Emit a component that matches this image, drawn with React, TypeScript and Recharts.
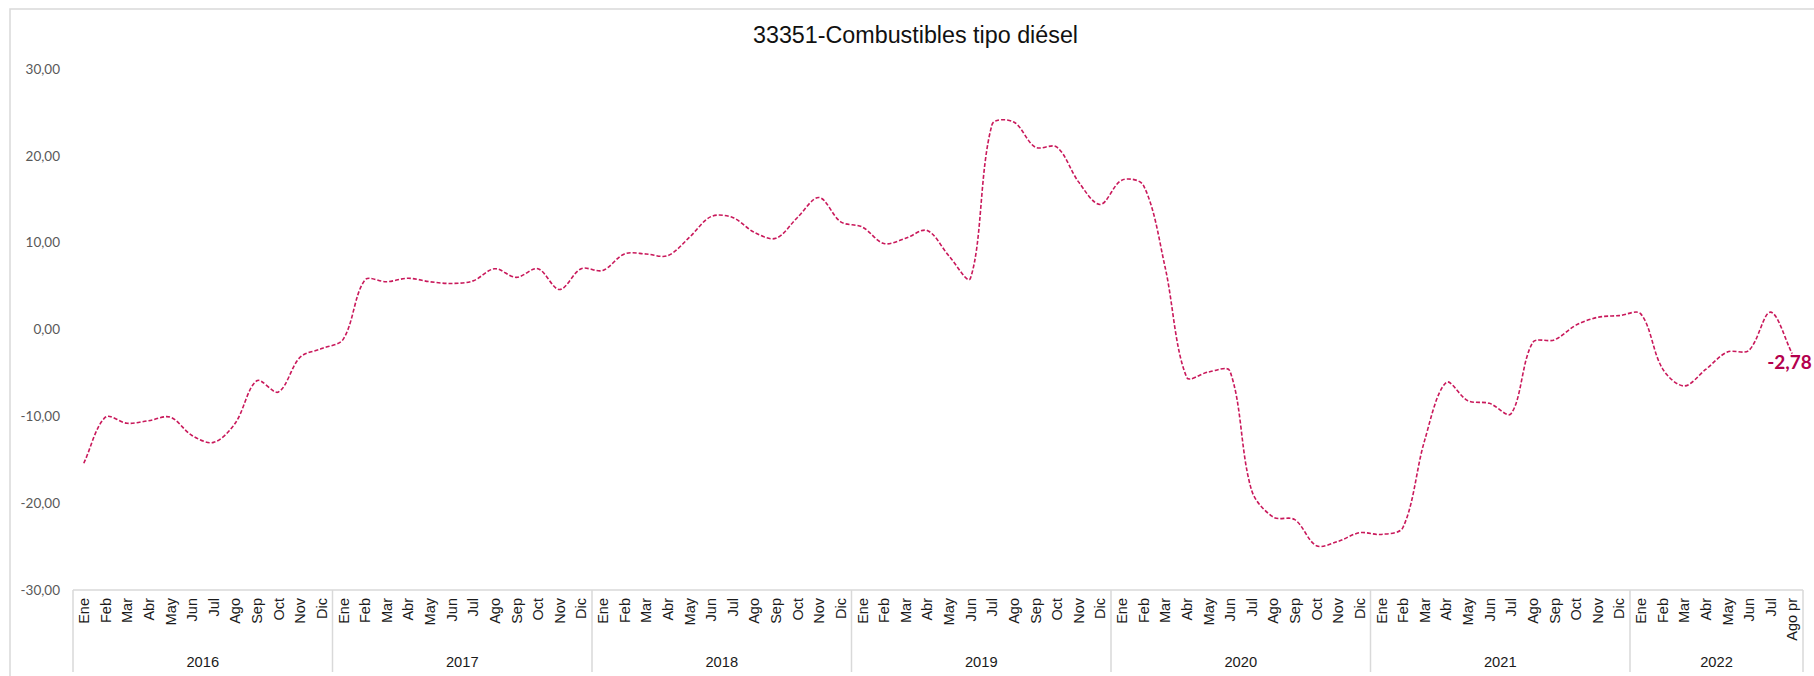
import React from 'react';
import { LineChart, Line, XAxis, YAxis, LabelList } from 'recharts';

const years = ['2016', '2017', '2018', '2019', '2020', '2021', '2022'];
const months = ['Ene', 'Feb', 'Mar', 'Abr', 'May', 'Jun', 'Jul', 'Ago', 'Sep', 'Oct', 'Nov', 'Dic'];
const months2022 = ['Ene', 'Feb', 'Mar', 'Abr', 'May', 'Jun', 'Jul', 'Ago pr'];

const values2016 = [-15.4, -10.1, -10.8, -10.5, -10.1, -12.2, -13.0, -10.8, -5.9, -7.2, -3.2, -2.2];
const values2017 = [-1.1, 5.7, 5.5, 5.9, 5.5, 5.3, 5.6, 7.0, 6.0, 7.0, 4.6, 7.0];
const values2018 = [6.8, 8.7, 8.7, 8.5, 10.6, 13.0, 12.9, 11.2, 10.5, 12.9, 15.2, 12.4];
const values2019 = [11.8, 9.9, 10.5, 11.4, 8.5, 5.9, 23.6, 23.9, 21.0, 21.0, 17.0, 14.4];
const values2020 = [17.2, 16.6, 7.2, -5.5, -4.9, -4.8, -18.5, -21.6, -21.9, -24.9, -24.4, -23.4];
const values2021 = [-23.6, -22.8, -12.8, -6.1, -8.2, -8.5, -9.7, -1.5, -1.2, 0.5, 1.4, 1.6];
const values2022 = [1.8, -4.5, -6.5, -4.6, -2.6, -2.4, 2.0, -2.78];

const yTicks = [-30, -20, -10, 0, 10, 20, 30];

const monthsByYear = years.map((y) => (y === '2022' ? months2022 : months));
const valuesByYear = [values2016, values2017, values2018, values2019, values2020, values2021, values2022];

const fmt = (v: number) => v.toFixed(2).replace('.', ',');

const data: { key: string; value: number; label?: string }[] = years.flatMap((year, yi) =>
  monthsByYear[yi].map((m, mi) => ({ key: `${year}|${m}`, value: valuesByYear[yi][mi] }))
);
data[data.length - 1].label = fmt(data[data.length - 1].value);

const W = 1814;
const H = 676;
const PLOT_LEFT = 73;
const PLOT_RIGHT = 1803;
const BAND = (PLOT_RIGHT - PLOT_LEFT) / data.length;

const LINE_COLOR = '#C9195B';
const GRID = '#d9d9d9';

// Excel-like smoothing: bezier through every point, arms scaled by chord length
const smoothCurve = (context: any) => {
  let pts: number[][] = [];
  const dist = (a: number[], b: number[]) => Math.hypot(b[0] - a[0], b[1] - a[1]);
  return {
    areaStart() {},
    areaEnd() {},
    lineStart() {
      pts = [];
    },
    point(x: number, y: number) {
      pts.push([+x, +y]);
    },
    lineEnd() {
      if (!pts.length) return;
      context.moveTo(pts[0][0], pts[0][1]);
      for (let i = 0; i < pts.length - 1; i++) {
        const p0 = pts[i - 1] || pts[i];
        const p1 = pts[i];
        const p2 = pts[i + 1];
        const p3 = pts[i + 2] || p2;
        const d01 = dist(p0, p1);
        const d12 = dist(p1, p2);
        const d23 = dist(p2, p3);
        const f1 = d01 + d12 > 0 ? d12 / (d01 + d12) / 3 : 0;
        const f2 = d12 + d23 > 0 ? d12 / (d12 + d23) / 3 : 0;
        context.bezierCurveTo(
          p1[0] + (p2[0] - p0[0]) * f1,
          p1[1] + (p2[1] - p0[1]) * f1,
          p2[0] - (p3[0] - p1[0]) * f2,
          p2[1] - (p3[1] - p1[1]) * f2,
          p2[0],
          p2[1]
        );
      }
    },
  };
};

function MonthTick(props: any) {
  const { x, y, payload } = props;
  const [year, month] = String(payload.value).split('|');
  const yi = years.indexOf(year);
  const list = monthsByYear[yi];
  const mi = list.indexOf(month);
  const half = BAND / 2;
  const isLast = yi === years.length - 1 && mi === list.length - 1;
  return (
    <g>
      <text
        transform={`translate(${x},${y + 8}) rotate(-90)`}
        textAnchor="end"
        dy="0.36em"
        fontSize={14.5}
        fontFamily="'Liberation Sans', Arial, sans-serif"
        fill="#1a1a1a"
      >
        {month}
      </text>
      {mi === 0 && <line x1={x - half} x2={x - half} y1={y} y2={y + 82} stroke={GRID} strokeWidth={1.5} />}
      {isLast && <line x1={x + half} x2={x + half} y1={y} y2={y + 82} stroke={GRID} strokeWidth={1.5} />}
      {mi === list.length / 2 - 1 && (
        <text
          x={x + half}
          y={y + 77}
          textAnchor="middle"
          fontSize={14.7}
          fontFamily="'Liberation Sans', Arial, sans-serif"
          fill="#1a1a1a"
        >
          {year}
        </text>
      )}
    </g>
  );
}

export default function App() {
  return (
    <div style={{ position: 'absolute', left: 0, top: 0, width: W, height: H, overflow: 'hidden', background: '#fff' }}>
      <svg width={W} height={H} style={{ position: 'absolute', left: 0, top: 0 }}>
        <rect x={10} y={9} width={W + 20} height={H + 20} fill="#fff" stroke={GRID} strokeWidth={1.5} />
        <text
          x={915.5}
          y={43}
          textAnchor="middle"
          fontSize={23.3}
          fontFamily="'Liberation Sans', Arial, sans-serif"
          fill="#111"
        >
          33351-Combustibles tipo diésel
        </text>
      </svg>
      <div style={{ position: 'absolute', left: 0, top: 0 }}>
        <LineChart width={W} height={H} data={data} margin={{ top: 69, right: W - PLOT_RIGHT, bottom: 0, left: 13 }}>
          <XAxis
            dataKey="key"
            type="category"
            interval={0}
            height={86}
            padding={{ left: BAND / 2, right: BAND / 2 }}
            axisLine={{ stroke: GRID, strokeWidth: 1.5 }}
            tickLine={false}
            tickSize={0}
            tickMargin={0}
            tick={<MonthTick />}
          />
          <YAxis
            type="number"
            domain={[-30, 30]}
            ticks={yTicks}
            width={60}
            axisLine={false}
            tickLine={false}
            tickSize={0}
            tickMargin={13}
            tickFormatter={(v: number) => fmt(v)}
            tick={{ fontSize: 13.5, fontFamily: 'Lato, sans-serif', fill: '#595959' }}
          />
          <Line
            dataKey="value"
            type={smoothCurve as any}
            stroke={LINE_COLOR}
            strokeWidth={1.6}
            strokeDasharray="4 2"
            dot={false}
            activeDot={false}
            isAnimationActive={false}
          >
            <LabelList
              dataKey="label"
              content={(p: any) =>
                p.value == null ? null : (
                  <text
                    x={Number(p.x) - 25}
                    y={Number(p.y) + 15}
                    fill="#B4004E"
                    fontWeight={700}
                    fontSize={19}
                    fontFamily="Lato, sans-serif"
                  >
                    {p.value}
                  </text>
                )
              }
            />
          </Line>
        </LineChart>
      </div>
    </div>
  );
}
